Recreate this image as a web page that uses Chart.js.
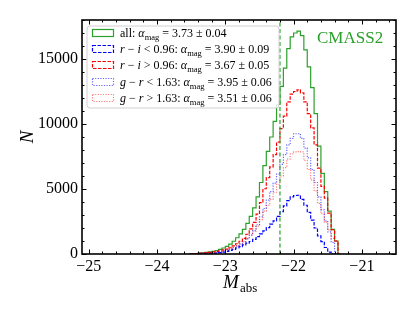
<!DOCTYPE html>
<html>
<head>
<meta charset="utf-8">
<script src="https://cdn.jsdelivr.net/npm/chart.js@4.4.0/dist/chart.umd.min.js"></script>
<style>
  html, body { margin: 0; padding: 0; background: #fff; }
</style>
</head>
<body>
<canvas id="mag-hist-chart" width="415" height="312"></canvas>
<script>
// bin centres (0.05 mag bins), padded with an empty bin at each end
var magBins = [-23.525, -23.475, -23.425, -23.375, -23.325, -23.275, -23.225, -23.175, -23.125, -23.075,
               -23.025, -22.975, -22.925, -22.875, -22.825, -22.775, -22.725, -22.675, -22.625, -22.575,
               -22.525, -22.475, -22.425, -22.375, -22.325, -22.275, -22.225, -22.175, -22.125, -22.075,
               -22.025, -21.975, -21.925, -21.875, -21.825, -21.775, -21.725, -21.675, -21.625, -21.575,
               -21.525, -21.475, -21.425, -21.375, -21.325];

var countsAll = [0, 20, 40, 60, 90, 120, 160, 210, 270, 350, 460,
                 580, 760, 980, 1250, 1550, 1900, 2350, 2900, 3550, 4400,
                 5500, 6800, 7900, 9000, 10200, 11500, 12900, 14300, 15800, 16700,
                 17000, 17150, 16800, 15700, 14400, 12800, 10800, 8300, 6200, 4800,
                 3300, 1900, 1000, 0];
var countsRiBlue = [0, 0, 0, 0, 10, 20, 30, 50, 70, 100, 150,
                    200, 280, 360, 460, 570, 700, 830, 960, 1120, 1330,
                    1550, 1780, 2030, 2300, 2550, 2900, 3250, 3700, 4100, 4400,
                    4500, 4520, 4200, 3750, 3200, 2600, 2000, 1400, 950, 500,
                    150, 0, 0, 0];
var countsRiRed = [0, 20, 40, 60, 80, 100, 130, 160, 200, 250, 310,
                   380, 480, 620, 790, 980, 1200, 1520, 1940, 2430, 3070,
                   3950, 5020, 5870, 6700, 7650, 8600, 9650, 10600, 11700, 12300,
                   12500, 12630, 12400, 11700, 10800, 9700, 8400, 6600, 5200, 4300,
                   3150, 1880, 1000, 0];
var countsGrBlue = [0, 10, 20, 30, 45, 60, 80, 100, 130, 170, 220,
                    280, 370, 480, 610, 760, 940, 1160, 1450, 1800, 2250,
                    2850, 3500, 4150, 4800, 5450, 6150, 6900, 7650, 8400, 8900,
                    9250, 9250, 8900, 8150, 7400, 6500, 5500, 4400, 3400, 2550,
                    1700, 900, 0, 0];
var countsGrRed = [0, 10, 20, 30, 45, 60, 80, 110, 140, 180, 240,
                   300, 390, 500, 640, 790, 960, 1190, 1450, 1750, 2150,
                   2650, 3300, 3750, 4200, 4750, 5350, 6000, 6650, 7300, 7700,
                   7850, 7880, 7850, 7200, 6500, 5700, 4850, 3900, 3100, 2450,
                   1850, 1200, 1000, 0];

var cutMag = -22.2;
var xTicks = [-25, -24, -23, -22, -21];
var yTicks = [0, 5000, 10000, 15000];

// legend text: [style, text] with style r = roman, i = italic, s = subscript
var legendLabels = [
    [["r", "all: "], ["i", "\u03b1"], ["s", "mag"], ["r", " = 3.73 \u00b1 0.04"]],
    [["i", "r"], ["r", " \u2212 "], ["i", "i"], ["r", " < 0.96: "], ["i", "\u03b1"], ["s", "mag"], ["r", " = 3.90 \u00b1 0.09"]],
    [["i", "r"], ["r", " \u2212 "], ["i", "i"], ["r", " > 0.96: "], ["i", "\u03b1"], ["s", "mag"], ["r", " = 3.67 \u00b1 0.05"]],
    [["i", "g"], ["r", " \u2212 "], ["i", "r"], ["r", " < 1.63: "], ["i", "\u03b1"], ["s", "mag"], ["r", " = 3.95 \u00b1 0.06"]],
    [["i", "g"], ["r", " \u2212 "], ["i", "r"], ["r", " > 1.63: "], ["i", "\u03b1"], ["s", "mag"], ["r", " = 3.51 \u00b1 0.06"]]
];

var SERIF = '"Liberation Serif", "Times New Roman", serif';
var GREEN = "#2ca02c";

function pts(vals) {
    return magBins.map(function (m, i) { return { x: m, y: vals[i] }; });
}

function histSet(label, vals, color, dash, order) {
    return {
        label: label,
        data: pts(vals),
        borderColor: color,
        borderWidth: 1.2,
        borderDash: dash,
        stepped: "middle",
        pointRadius: 0,
        fill: false,
        order: order
    };
}

var datasets = [
    histSet("all", countsAll, GREEN, [], 5),
    histSet("r-i<0.96", countsRiBlue, "#0000ff", [3.5, 1.5], 4),
    histSet("r-i>0.96", countsRiRed, "#ff0000", [3.5, 1.5], 3),
    histSet("g-r<1.63", countsGrBlue, "rgba(0,0,255,0.6)", [1.2, 1.4], 2),
    histSet("g-r>1.63", countsGrRed, "rgba(255,0,0,0.5)", [1.2, 1.4], 1),
    {
        label: "cut",
        data: [{ x: cutMag, y: 0 }, { x: cutMag, y: 18000 }],
        borderColor: GREEN,
        borderWidth: 1.2,
        borderDash: [4, 2.5],
        pointRadius: 0,
        fill: false,
        order: 0
    }
];

// legend handles: colour + dash, same as the datasets
var legendStyles = datasets.slice(0, 5);

function richText(ctx, segs, x, y) {
    segs.forEach(function (s) {
        if (s[0] === "s") {
            ctx.font = "8.5px " + SERIF;
            ctx.fillText(s[1], x, y + 3);
        } else {
            ctx.font = (s[0] === "i" ? "italic " : "") + "12px " + SERIF;
            ctx.fillText(s[1], x, y);
        }
        x += ctx.measureText(s[1]).width;
    });
}

var decorPlugin = {
    id: "decor",
    afterDatasetsDraw: function (chart) {
        var ctx = chart.ctx;
        var a = chart.chartArea;
        var xs = chart.scales.x, ys = chart.scales.y;
        ctx.save();

        // ticks inward on all four sides
        ctx.strokeStyle = "#000";
        ctx.lineWidth = 1;
        ctx.beginPath();
        for (var k = -125; k <= -103; k++) {
            var px = Math.round(xs.getPixelForValue(k / 5)) + 0.5;
            var len = (k % 5 === 0) ? 4.5 : 2.5;
            ctx.moveTo(px, a.bottom); ctx.lineTo(px, a.bottom - len);
            ctx.moveTo(px, a.top); ctx.lineTo(px, a.top + len);
        }
        for (var j = 0; j <= 18; j++) {
            var py = Math.round(ys.getPixelForValue(j * 1000)) + 0.5;
            var ln = (j % 5 === 0) ? 4.5 : 2.5;
            ctx.moveTo(a.left, py); ctx.lineTo(a.left + ln, py);
            ctx.moveTo(a.right, py); ctx.lineTo(a.right - ln, py);
        }
        ctx.stroke();

        // frame
        ctx.lineWidth = 1.6;
        ctx.strokeRect(a.left, a.top, a.right - a.left, a.bottom - a.top);

        // legend box
        var bx = 87, by = 26, bw = 192, bh = 82, r = 3;
        ctx.beginPath();
        ctx.moveTo(bx + r, by);
        ctx.arcTo(bx + bw, by, bx + bw, by + bh, r);
        ctx.arcTo(bx + bw, by + bh, bx, by + bh, r);
        ctx.arcTo(bx, by + bh, bx, by, r);
        ctx.arcTo(bx, by, bx + bw, by, r);
        ctx.closePath();
        ctx.fillStyle = "rgba(255,255,255,0.85)";
        ctx.fill();
        ctx.strokeStyle = "#d0d0d0";
        ctx.lineWidth = 1;
        ctx.stroke();

        ctx.textBaseline = "alphabetic";
        ctx.textAlign = "left";
        legendLabels.forEach(function (segs, i) {
            var cy = 33 + i * 16.2;
            var ds = legendStyles[i];
            ctx.strokeStyle = ds.borderColor;
            ctx.lineWidth = 1.2;
            ctx.setLineDash(ds.borderDash);
            ctx.strokeRect(92.5, Math.round(cy) - 3.5, 21, 7);
            ctx.setLineDash([]);
            ctx.fillStyle = "#000";
            richText(ctx, segs, 120, cy + 4);
        });

        // sample name
        ctx.fillStyle = GREEN;
        ctx.font = "17px " + SERIF;
        ctx.fillText("CMASS2", 317, 43);

        // axis labels
        ctx.fillStyle = "#000";
        ctx.font = "italic 19px " + SERIF;
        ctx.fillText("M", 223, 288);
        ctx.font = "13px " + SERIF;
        ctx.fillText("abs", 240, 292);

        ctx.translate(33, 137);
        ctx.rotate(-Math.PI / 2);
        ctx.textAlign = "center";
        ctx.font = "italic 19px " + SERIF;
        ctx.fillText("N", 0, 0);
        ctx.restore();
    }
};

function minusLabel(v) {
    return v < 0 ? "\u2212" + Math.abs(v) : String(v);
}

var chartOptions = {
    responsive: false,
    animation: false,
    devicePixelRatio: 1,
    layout: { padding: { left: 0, right: 19, top: 20, bottom: 0 } },
    plugins: { legend: { display: false }, tooltip: { enabled: false } },
    scales: {
        x: {
            type: "linear",
            min: -25.1,
            max: -20.5,
            afterFit: function (s) { s.height = 58; },
            afterBuildTicks: function (s) {
                s.ticks = xTicks.map(function (v) { return { value: v }; });
            },
            grid: { display: false, drawTicks: false },
            border: { display: false },
            ticks: {
                autoSkip: false,
                maxRotation: 0,
                padding: 3,
                color: "#000",
                font: { family: SERIF, size: 16 },
                callback: minusLabel
            }
        },
        y: {
            type: "linear",
            min: 0,
            max: 18000,
            afterFit: function (s) { s.width = 82; },
            afterBuildTicks: function (s) {
                s.ticks = yTicks.map(function (v) { return { value: v }; });
            },
            grid: { display: false, drawTicks: false },
            border: { display: false },
            ticks: {
                autoSkip: false,
                padding: 4,
                color: "#000",
                font: { family: SERIF, size: 16 },
                callback: function (v) { return String(v); }
            }
        }
    }
};

var ctx = document.getElementById("mag-hist-chart");
var magChart = new Chart(ctx, {
    type: "line",
    data: { datasets: datasets },
    options: chartOptions,
    plugins: [decorPlugin]
});
</script>
</body>
</html>
